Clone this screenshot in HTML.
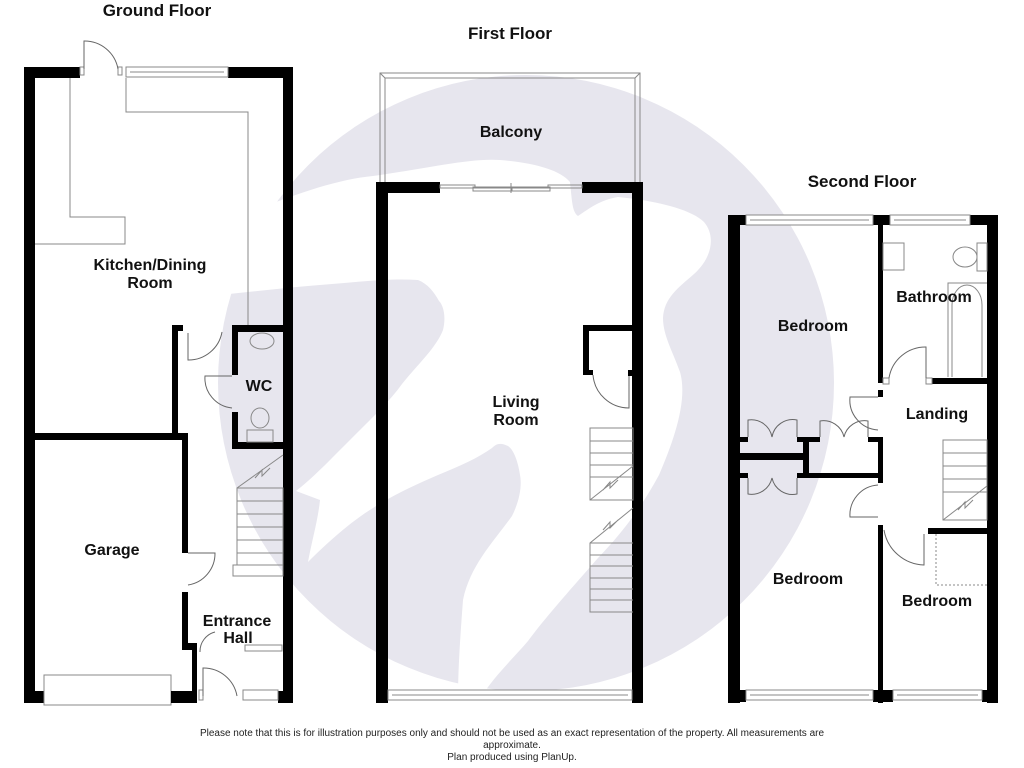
<!DOCTYPE html>
<html><head><meta charset="utf-8"><style>
html,body{margin:0;padding:0;background:#fff;}
svg{display:block}
text{font-family:"Liberation Sans",Arial,sans-serif;font-weight:bold;fill:#111;}
.t{font-size:16px;text-anchor:middle}
.h{font-size:17px;text-anchor:middle}
.f{font-size:10px;font-weight:normal;text-anchor:middle;fill:#222}
.w{fill:#000}
.l{fill:none;stroke:#888;stroke-width:1}
.d{fill:none;stroke:#666;stroke-width:1}
.win{fill:#fff;stroke:#888;stroke-width:1}
</style></head><body>
<svg width="1024" height="768" viewBox="0 0 1024 768" xmlns="http://www.w3.org/2000/svg">
<!-- watermark -->
<circle cx="526" cy="383" r="308" fill="#e7e6ee"/>
<path fill="#fff" d="M214,226 C280,200 330,180 373,176 C430,168 470,158 500,160 C535,163 560,170 570,182 C572,200 572,212 578,216 C590,208 600,200 618,197 C650,200 690,208 704,222 C716,236 712,258 694,274 C678,288 664,298 663,318 C663,335 672,350 680,372 C688,400 674,440 659,475 C640,510 620,535 598,558 C570,590 545,618 528,641 C510,662 495,675 479,700 L458,700 C458,670 460,640 463,600 C470,565 495,540 512,516 C520,500 522,485 520,475 C518,462 514,450 508,446 C500,442 496,444 492,448 C478,458 460,466 438,475 C415,485 393,495 373,508 C350,522 325,545 308,562 C312,540 318,520 320,500 L296,491 C310,480 322,468 332,458 C345,445 355,435 365,425 C380,410 392,398 402,384 C418,364 436,348 443,330 C446,318 444,306 439,301 C434,292 428,284 418,280 C390,278 360,282 332,284 C290,287 250,292 210,296 Z"/>

<!-- ===== GROUND FLOOR ===== -->
<text class="h" x="157" y="16">Ground Floor</text>
<rect class="w" x="24" y="67" width="56" height="11"/>
<rect class="w" x="228" y="67" width="65" height="11"/>
<rect class="w" x="24" y="67" width="11" height="636"/>
<rect class="w" x="283" y="67" width="10" height="636"/>
<rect class="win" x="126" y="67" width="102" height="10"/>
<line class="l" x1="130" y1="72" x2="224" y2="72"/>
<rect class="win" x="80" y="67" width="4" height="8"/><rect class="win" x="118" y="67" width="4" height="8"/>
<path class="d" d="M84,69 L84,41 A34,34 0 0 1 118,69"/>
<path class="l" d="M70,78 V217 H125 V244 H35"/>
<path class="l" d="M126,78 V112 H248 V325"/>
<rect class="w" x="172" y="325" width="6" height="113"/>
<rect class="w" x="172" y="325" width="11" height="6"/>
<rect class="w" x="35" y="433" width="148" height="7"/>
<rect class="w" x="182" y="433" width="6" height="120"/>
<rect class="w" x="182" y="592" width="6" height="58"/>
<rect class="w" x="182" y="643" width="15" height="7"/>
<rect class="w" x="192" y="643" width="5" height="60"/>
<path class="d" d="M188,553 L215,553 A32,32 0 0 1 188,585"/>
<path class="d" d="M188,333 L188,360 A34,34 0 0 0 222,332"/>
<rect class="w" x="232" y="325" width="51" height="7"/>
<rect class="w" x="232" y="325" width="6" height="50"/>
<rect class="w" x="232" y="412" width="6" height="37"/>
<rect class="w" x="232" y="442" width="51" height="7"/>
<path class="d" d="M232,376 L205,376 A30,30 0 0 0 232,408"/>
<ellipse class="l" cx="262" cy="341" rx="12" ry="8"/>
<ellipse class="l" cx="260" cy="418" rx="9" ry="10"/>
<rect class="l" x="247" y="430" width="26" height="12"/>
<text class="t" x="259" y="391">WC</text>
<g class="l">
<rect x="237" y="488" width="46" height="77"/>
<line x1="237" y1="501" x2="283" y2="501"/><line x1="237" y1="514" x2="283" y2="514"/>
<line x1="237" y1="527" x2="283" y2="527"/><line x1="237" y1="540" x2="283" y2="540"/><line x1="237" y1="553" x2="283" y2="553"/>
<rect x="233" y="565" width="50" height="11"/>
<path d="M237,488 L283,455 M255,478 L262,470 L262,476 L270,468"/>
</g>
<rect class="w" x="24" y="691" width="21" height="12"/>
<rect class="win" x="44" y="675" width="127" height="30"/>
<rect class="w" x="171" y="691" width="26" height="12"/>
<rect class="w" x="278" y="691" width="15" height="12"/>
<rect class="win" x="243" y="690" width="35" height="10"/>
<rect class="win" x="199" y="690" width="4" height="10"/>
<path class="d" d="M203,696 L203,668 A34,34 0 0 1 237,696"/>
<rect class="win" x="245" y="645" width="37" height="6"/>
<path class="d" d="M200,652 A20,20 0 0 1 215,632"/>
<text class="t" x="150" y="270">Kitchen/Dining</text>
<text class="t" x="150" y="288">Room</text>
<text class="t" x="112" y="555">Garage</text>
<text class="t" x="237" y="626">Entrance</text>
<text class="t" x="238" y="643">Hall</text>

<!-- ===== FIRST FLOOR ===== -->
<text class="h" x="510" y="39">First Floor</text>
<rect fill="none" stroke="#888" x="380" y="73" width="260" height="115"/>
<path class="l" d="M385,78 H635 V188 M385,78 V188 M380,73 L385,78 M640,73 L635,78"/>
<text class="t" x="511" y="137">Balcony</text>
<rect class="w" x="376" y="182" width="64" height="11"/>
<rect class="w" x="582" y="182" width="61" height="11"/>
<rect class="w" x="376" y="182" width="12" height="521"/>
<rect class="w" x="632" y="182" width="11" height="521"/>
<g class="l"><rect x="440" y="185" width="35" height="3"/><rect x="473" y="187" width="38" height="4"/><rect x="512" y="187" width="38" height="4"/><rect x="548" y="185" width="34" height="3"/><line x1="511" y1="183" x2="511" y2="193"/></g>
<rect class="win" x="388" y="690" width="244" height="10"/>
<line class="l" x1="392" y1="695" x2="628" y2="695"/>
<rect class="w" x="583" y="325" width="50" height="6"/>
<rect class="w" x="583" y="325" width="6" height="50"/>
<rect class="w" x="583" y="370" width="10" height="5"/>
<rect class="w" x="628" y="370" width="5" height="6"/>
<path class="d" d="M593,375 A36,36 0 0 0 629,408 L629,376"/>
<g class="l">
<rect x="590" y="428" width="43" height="72"/>
<line x1="590" y1="441" x2="633" y2="441"/><line x1="590" y1="453" x2="633" y2="453"/><line x1="590" y1="465" x2="633" y2="465"/><line x1="590" y1="477" x2="633" y2="477"/>
<path d="M590,500 L633,466 M603,490 L610,482 L610,488 L618,480"/>
<path d="M633,508 L590,543 V612 H633 M603,530 L610,522 L610,528 L618,520"/>
<line x1="590" y1="555" x2="633" y2="555"/><line x1="590" y1="566" x2="633" y2="566"/><line x1="590" y1="578" x2="633" y2="578"/><line x1="590" y1="589" x2="633" y2="589"/><line x1="590" y1="600" x2="633" y2="600"/><line x1="590" y1="543" x2="633" y2="543"/>
</g>
<text class="t" x="516" y="407">Living</text>
<text class="t" x="516" y="425">Room</text>

<!-- ===== SECOND FLOOR ===== -->
<text class="h" x="862" y="187">Second Floor</text>
<rect class="w" x="728" y="215" width="12" height="488"/>
<rect class="w" x="987" y="215" width="11" height="488"/>
<rect class="w" x="728" y="215" width="18" height="10"/>
<rect class="w" x="873" y="215" width="17" height="10"/>
<rect class="w" x="970" y="215" width="28" height="10"/>
<rect class="win" x="746" y="215" width="127" height="10"/><line class="l" x1="750" y1="220" x2="869" y2="220"/>
<rect class="win" x="890" y="215" width="80" height="10"/><line class="l" x1="894" y1="220" x2="966" y2="220"/>
<rect class="w" x="878" y="215" width="5" height="168"/>
<rect class="w" x="878" y="390" width="5" height="7"/>
<rect class="w" x="932" y="378" width="55" height="6"/>
<rect class="win" x="883" y="378" width="6" height="6"/><rect class="win" x="926" y="378" width="6" height="6"/>
<path class="d" d="M926,378 L926,347 A37,37 0 0 0 889,378"/>
<rect class="l" x="883" y="243" width="21" height="27"/>
<ellipse class="l" cx="965" cy="257" rx="12" ry="10"/>
<rect class="l" x="977" y="243" width="10" height="28"/>
<path class="l" d="M948,377 V283 H987 M952,377 V305 A15,20 0 0 1 982,305 V377"/>
<text class="t" x="934" y="302">Bathroom</text>
<rect class="w" x="740" y="437" width="8" height="5"/>
<rect class="w" x="797" y="437" width="23" height="5"/>
<rect class="w" x="803" y="437" width="6" height="41"/>
<rect class="w" x="740" y="453" width="63" height="7"/>
<rect class="w" x="740" y="473" width="8" height="5"/>
<rect class="w" x="797" y="473" width="86" height="5"/>
<rect class="w" x="868" y="437" width="15" height="5"/>
<rect class="w" x="878" y="437" width="5" height="46"/>
<g class="d">
<path d="M748,437 V420 A21,21 0 0 1 772,437 A21,21 0 0 1 797,420 V437"/>
<path d="M820,437 V421 A21,21 0 0 1 844,437 A21,21 0 0 1 868,421 V437"/>
<path d="M748,478 V494 A21,21 0 0 0 772,478 A21,21 0 0 0 797,494 V478"/>
<path d="M878,397 L850,397 A30,30 0 0 0 878,430"/>
<path d="M878,517 L850,517 A30,30 0 0 1 878,485"/>
</g>
<rect class="w" x="878" y="525" width="5" height="178"/>
<rect class="w" x="928" y="528" width="59" height="6"/>
<path class="d" d="M884,530 A42,42 0 0 0 924,565 V534"/>
<path class="l" d="M936,534 V585 H987" stroke-dasharray="2,2"/>
<g class="l">
<rect x="943" y="440" width="44" height="80"/>
<line x1="943" y1="453" x2="987" y2="453"/><line x1="943" y1="466" x2="987" y2="466"/><line x1="943" y1="479" x2="987" y2="479"/><line x1="943" y1="492" x2="987" y2="492"/>
<path d="M943,520 L987,486 M958,510 L965,502 L965,508 L973,500"/>
</g>
<rect class="w" x="728" y="690" width="18" height="12"/>
<rect class="w" x="873" y="690" width="20" height="12"/>
<rect class="w" x="982" y="690" width="16" height="12"/>
<rect class="win" x="746" y="690" width="127" height="10"/><line class="l" x1="750" y1="695" x2="869" y2="695"/>
<rect class="win" x="893" y="690" width="89" height="10"/><line class="l" x1="897" y1="695" x2="978" y2="695"/>
<text class="t" x="813" y="331">Bedroom</text>
<text class="t" x="937" y="419">Landing</text>
<text class="t" x="808" y="584">Bedroom</text>
<text class="t" x="937" y="606">Bedroom</text>

<text class="f" x="512" y="736">Please note that this is for illustration purposes only and should not be used as an exact representation of the property. All measurements are</text>
<text class="f" x="512" y="748">approximate.</text>
<text class="f" x="512" y="760">Plan produced using PlanUp.</text>
</svg>
</body></html>
